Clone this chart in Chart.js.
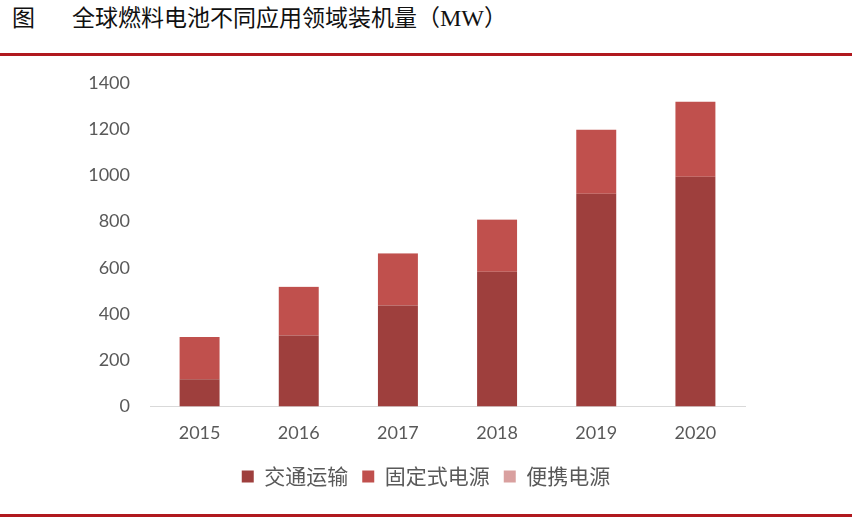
<!DOCTYPE html>
<html>
<head>
<meta charset="utf-8">
<script src="https://cdn.jsdelivr.net/npm/chart.js@4.4.1/dist/chart.umd.min.js"></script>
<style>
  body { margin: 0; width: 852px; height: 520px; background: #fff; position: relative; overflow: hidden; }
  .title { position: absolute; top: -1px; left: 12px; font-family: "Noto Sans CJK SC", sans-serif; font-size: 23px; color: #111; white-space: nowrap; }
  .title .fig { display: inline-block; width: 60px; }
  .title .mw { font-family: "Liberation Serif", serif; font-size: 24px; }
  .rule { position: absolute; left: 0; width: 852px; height: 3px; background: #B0181E; }
  #wrap { position: absolute; left: 0; top: 60px; width: 852px; height: 445px; }
</style>
</head>
<body>
<div class="title"><span class="fig">图</span>全球燃料电池不同应用领域装机量（<span class="mw">MW</span>）</div>
<div class="rule" style="top:53px"></div>
<div id="wrap"><canvas id="chart"></canvas></div>
<div class="rule" style="top:514px"></div>
<script>
// data (MW)
const years = ['2015', '2016', '2017', '2018', '2019', '2020'];
const transport = [117, 307, 436, 583, 920, 994];
const stationary = [183, 210, 226, 225, 277, 324];
const portable = [0.4, 0.4, 0.4, 0.4, 0.4, 0.4];

// keep the legend centred on the page rather than on the plot box
const centerLegend = {
  id: 'centerLegend',
  afterLayout(chart) {
    if (chart.legend) chart.legend.left = 107;
  }
};

const ctx = document.getElementById('chart').getContext('2d');

new Chart(ctx, {
  type: 'bar',
  data: {
    labels: years,
    datasets: [
      { label: '交通运输', data: transport, backgroundColor: '#9E3F3D' },
      { label: '固定式电源', data: stationary, backgroundColor: '#C0504D' },
      { label: '便携电源', data: portable, backgroundColor: '#D9A09F' }
    ]
  },
  plugins: [centerLegend],
  options: {
    responsive: true,
    maintainAspectRatio: false,
    animation: false,
    layout: { padding: { left: 0, right: 107, top: 15, bottom: 8 } },
    datasets: { bar: { barPercentage: 0.62, categoryPercentage: 0.65 } },
    scales: {
      x: {
        stacked: true,
        grid: { display: false },
        border: { display: true, color: '#D9D9D9', width: 1 },
        ticks: { color: '#595959', font: { family: 'Lato', size: 18 }, padding: 8 }
      },
      y: {
        stacked: true,
        min: 0,
        max: 1400,
        afterFit: (s) => { s.width = 150; },
        grid: { display: false },
        border: { display: false },
        ticks: {
          stepSize: 200,
          color: '#595959',
          font: { family: 'Lato', size: 18 },
          padding: 12,
          callback: (v) => String(v)
        }
      }
    },
    plugins: {
      tooltip: { enabled: false },
      legend: {
        position: 'bottom',
        labels: {
          boxWidth: 12,
          boxHeight: 12,
          padding: 14,
          color: '#595959',
          font: { family: '"Noto Sans CJK SC"', size: 21 }
        }
      }
    }
  }
});
</script>
</body>
</html>
